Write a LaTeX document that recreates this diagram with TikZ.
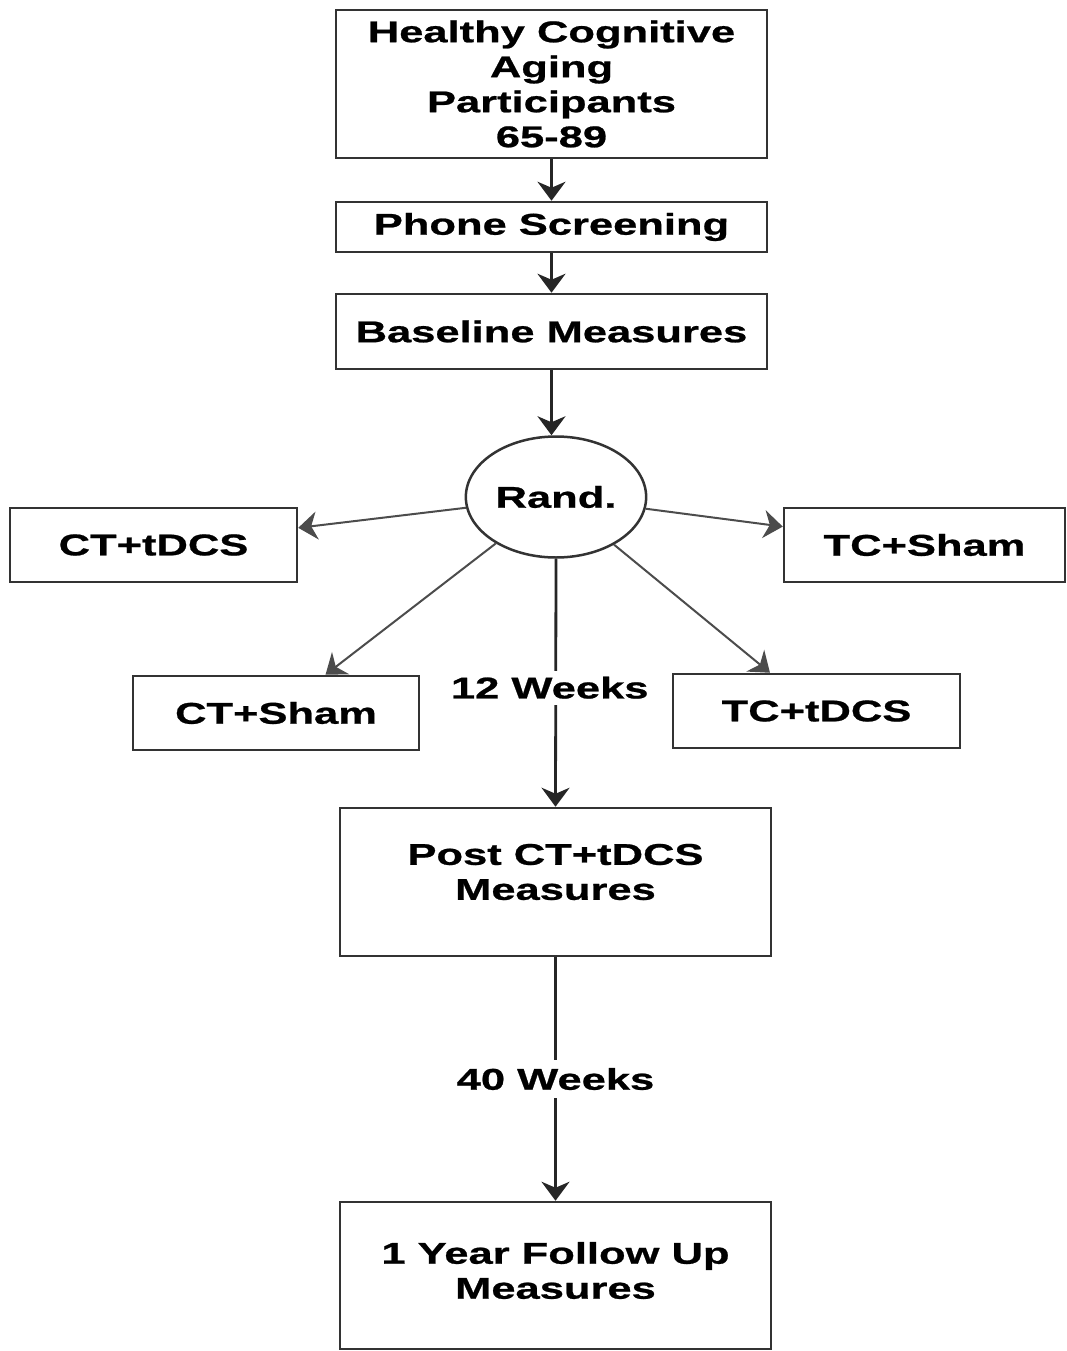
\documentclass[tikz,border=0pt]{standalone}
\usepackage{fontspec}
\setmainfont{Liberation Sans}[FakeStretch=1.45,BoldFeatures={FakeBold=0.8}]
\usetikzlibrary{arrows.meta,shapes.geometric}
\definecolor{linegray}{HTML}{333333}
\tikzset{
  box/.style={draw=linegray,line width=2.5pt,rectangle,align=center,
    font=\fontsize{30}{35}\selectfont\bfseries,inner sep=0pt},
  lbl/.style={align=center,font=\fontsize{30}{35}\selectfont\bfseries},
  arr/.style={draw=black!85,line width=2.8pt,
    -{Stealth[length=19pt,width=28pt,inset=6pt]}},
  thinarr/.style={arr,draw=black!70,line width=2pt}
}
\begin{document}
\begin{tikzpicture}[x=1pt,y=-1pt]
\useasboundingbox (0,0) rectangle (1066,1351);
\clip (0,0) rectangle (1066,1351);
% main column
\node[box,minimum width=431pt,minimum height=148pt] (hca) at (551.5,84) {Healthy Cognitive\\Aging\\Participants\\65-89};
\node[box,minimum width=431pt,minimum height=50pt] (phone) at (551.5,227) {Phone Screening};
\node[box,minimum width=431pt,minimum height=75pt] (base) at (551.5,331.5) {Baseline Measures};
\node[ellipse,draw=linegray,line width=2.5pt,minimum width=176pt,minimum height=121pt,
  lbl] (rand) at (556,497) {Rand.};
% the four arms
\node[box,minimum width=287pt,minimum height=74pt] (ctd) at (153.5,545) {CT+tDCS};
\node[box,minimum width=281pt,minimum height=74pt] (tcs) at (924.5,545) {TC+Sham};
\node[box,minimum width=286pt,minimum height=74pt] (cts) at (276,713) {CT+Sham};
\node[box,minimum width=287pt,minimum height=74pt] (tct) at (816.5,711) {TC+tDCS};
% follow up
\node[box,minimum width=431pt,minimum height=148pt,
  label={[lbl,yshift=10pt]center:{Post CT+tDCS\\Measures}}] (post) at (555.5,882) {};
\node[box,minimum width=431pt,minimum height=147pt,
  label={[lbl,yshift=5pt]center:{1 Year Follow Up\\Measures}}] (fu) at (555.5,1275.5) {};

\draw[arr] (hca) -- (phone);
\draw[arr] (phone) -- (base);
\draw[arr] (base.south) -- (base.south |- rand.north);
\draw[thinarr] (rand) -- (ctd);
\draw[thinarr] (rand) -- (tcs);
\draw[thinarr] (rand) -- (cts);
\draw[thinarr] (rand) -- (tct);
\draw[arr] (rand.south) -- node[lbl,fill=white,pos=0.52,inner ysep=6pt,xshift=-6pt]{12 Weeks} (post.north);
\draw[arr] (post.south) -- node[lbl,fill=white,pos=0.5,inner ysep=8pt]{40 Weeks} (fu.north);
\end{tikzpicture}
\end{document}
